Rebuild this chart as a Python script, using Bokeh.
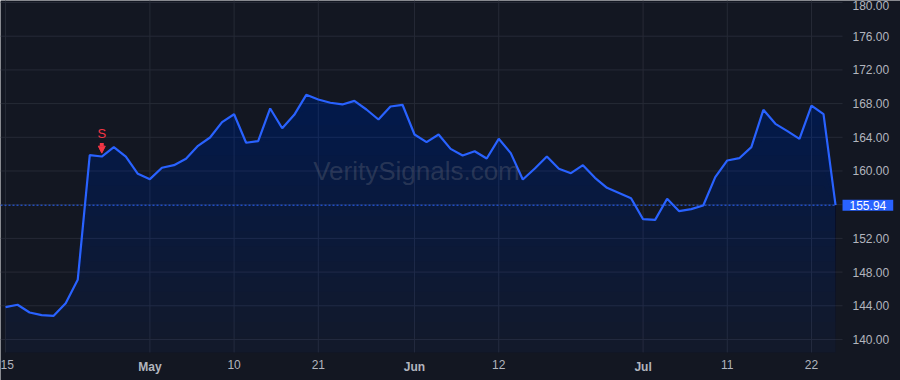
import numpy as np
import pandas as pd
from bokeh.plotting import figure
from bokeh.models import (Range1d, FixedTicker, Label, Arrow, NormalHead, PrintfTickFormatter,
                          LinearAxis)
from bokeh.embed import file_html
from bokeh.resources import INLINE
from bokeh.core.properties import value

# ---- data ----
holidays = ["2024-05-27", "2024-06-19", "2024-07-04"]
dates = [d.strftime("%Y-%m-%d") for d in pd.bdate_range("2024-04-15", "2024-07-24")
         if d.strftime("%Y-%m-%d") not in holidays]

close = [143.84, 144.12, 143.20, 142.89, 142.81, 144.31, 147.08, 161.88, 161.72, 162.83,
         161.72, 159.67, 159.03, 160.38, 160.69, 161.45, 162.99, 163.98, 165.80, 166.74,
         163.35, 163.54, 167.42, 165.08, 166.67, 169.04, 168.49, 168.10, 167.90, 168.33,
         167.30, 166.11, 167.66, 167.86, 164.33, 163.42, 164.33, 162.63, 161.84, 162.35,
         161.48, 163.82, 162.12, 158.99, 160.30, 161.72, 160.26, 159.74, 160.69, 159.19,
         158.00, 157.40, 156.77, 154.28, 154.20, 156.70, 155.23, 155.47, 155.90, 159.27,
         161.25, 161.52, 162.83, 167.26, 165.60, 164.73, 163.82, 167.77, 166.74, 155.94]

tick_dates = ["2024-04-15", "2024-05-01", "2024-05-10", "2024-05-21", "2024-06-03",
              "2024-06-12", "2024-07-01", "2024-07-11", "2024-07-22"]
tick_labels = ["15", "May", "10", "21", "Jun", "12", "Jul", "11", "22"]
month_labels = ["May", "Jun", "Jul"]

y_ticks = [140, 144, 148, 152, 156, 160, 164, 168, 172, 176, 180]

signal_date = "2024-04-25"
signal_text = "S"
last_price_text = "155.94"
watermark = "VeritySignals.com"

# ---- style ----
BG = "#131722"
LINE = "#2962ff"
GRID = "#262a36"
TXT = "#b2b5be"
RED = "#f23645"
FONT = "Liberation Sans"

x = np.arange(len(close))
v = np.array(close)
tick_idx = [dates.index(d) for d in tick_dates]

# full-canvas ranges; plotting pane ends at pane_right (x) and pane_bottom (y)
x0, x1 = -0.42, 74.4
y0, y1 = 135.13, 180.24
pane_right = 69.58
pane_bottom = 138.46

p = figure(frame_width=900, frame_height=380, x_range=Range1d(x0, x1), y_range=Range1d(y0, y1),
           output_backend="svg", toolbar_location=None, x_axis_location=None, y_axis_location=None,
           min_border=0, background_fill_color=BG, border_fill_color=BG, outline_line_color=None)
p.xgrid.visible = False
p.ygrid.visible = False

# grid lines limited to the pane
p.segment(x0=tick_idx, y0=[pane_bottom] * len(tick_idx), x1=tick_idx, y1=[y1] * len(tick_idx),
          line_color=GRID, line_width=1)
p.segment(x0=[x0] * len(y_ticks), y0=y_ticks, x1=[pane_right] * len(y_ticks), y1=y_ticks,
          line_color=GRID, line_width=1)

# gradient-like area fill
base = np.full_like(v, pane_bottom)
p.varea(x=x, y1=base, y2=v, fill_color=LINE, fill_alpha=0.035)
for t in np.linspace(pane_bottom, v.max(), 18):
    p.varea(x=x, y1=np.minimum(v, t), y2=v, fill_color=LINE, fill_alpha=0.0105)

p.line(x, v, line_color=LINE, line_width=2.2)

# last price line
p.line([x0, x[-1]], [v[-1], v[-1]], line_color=LINE, line_width=1, line_dash="2 2")

# signal marker
si = dates.index(signal_date)
p.text(x=[si], y=[v[si]], text=[signal_text], text_color=RED, text_font=value(FONT),
       text_font_size="13px", text_align="center", text_baseline="middle", y_offset=-23)
p.add_layout(Arrow(end=NormalHead(size=7, fill_color=RED, line_color=RED, line_width=1),
                   x_start=si, y_start=v[si] + 1.6, x_end=si, y_end=v[si] + 0.4,
                   line_color=RED, line_width=4))

# watermark
p.add_layout(Label(x=(x0 + pane_right) / 2 - 0.42, y=(pane_bottom + y1) / 2 + 0.6, text=watermark,
                   text_align="center", text_baseline="middle", text_font=FONT,
                   text_font_size="26px", text_color="#787b86", text_alpha=0.3))

# price axis (right)
yax = LinearAxis(fixed_location=pane_right, ticker=FixedTicker(ticks=y_ticks),
                 formatter=PrintfTickFormatter(format="%.2f"))
yax.axis_line_color = None
yax.major_tick_line_color = None
yax.minor_tick_line_color = None
yax.major_tick_in = 0
yax.major_tick_out = 0
yax.major_label_text_color = TXT
yax.major_label_text_font = FONT
yax.major_label_text_font_size = "12px"
yax.major_label_standoff = 10
p.add_layout(yax, "right")

# time axis: day numbers (normal) and months (bold)
def time_axis(labels, style):
    ax = LinearAxis(fixed_location=pane_bottom, ticker=FixedTicker(ticks=tick_idx))
    ax.major_label_overrides = {i: l for i, l in zip(tick_idx, labels)}
    ax.axis_line_color = None
    ax.major_tick_line_color = None
    ax.minor_tick_line_color = None
    ax.major_tick_in = 0
    ax.major_tick_out = 0
    ax.major_label_text_color = TXT
    ax.major_label_text_font = FONT
    ax.major_label_text_font_size = "12px"
    ax.major_label_text_font_style = style
    ax.major_label_standoff = 8
    p.add_layout(ax, "below")

time_axis([("" if l in month_labels else l) for l in tick_labels], "normal")
time_axis([(l if l in month_labels else "") for l in tick_labels], "bold")

# last price badge
p.add_layout(Label(x=pane_right, y=v[-1], x_offset=0, text=last_price_text, text_align="left",
                   text_baseline="middle", text_font=FONT, text_font_size="12px",
                   text_color="white", background_fill_color=LINE, padding=(7, 1)))

open("out.html", "w").write(file_html(p, INLINE))
